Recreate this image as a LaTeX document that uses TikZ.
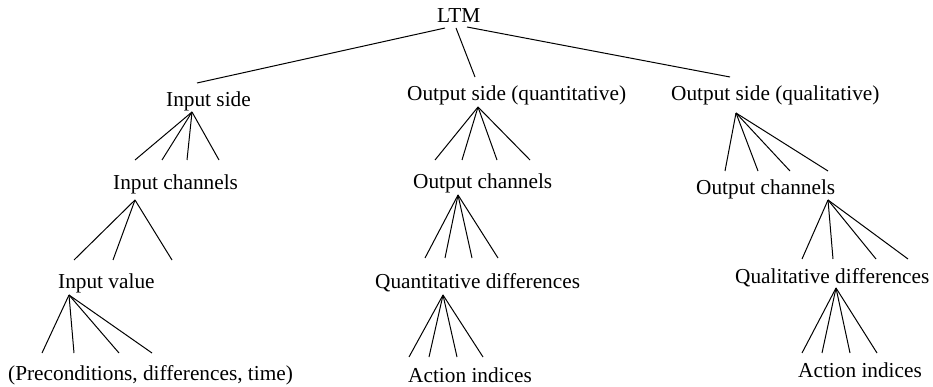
\documentclass[tikz,border=0pt]{standalone}
\usepackage{fontspec}
\setmainfont{Liberation Serif}
\begin{document}
\begin{tikzpicture}[x=1pt,y=-1pt,
  lbl/.style={anchor=base west,inner sep=0pt,font=\fontsize{21.3}{24}\selectfont},
  edge/.style={line width=1pt}]
\useasboundingbox (0,0) rectangle (933,387);
% labels
\node[lbl] (ltm) at (437,23) {LTM};
\node[lbl] (is) at (166,107) {Input side};
\node[lbl] (osq) at (407,101) {Output side (quantitative)};
\node[lbl] (osl) at (671,101) {Output side (qualitative)};
\node[lbl] (ic) at (113,190) {Input channels};
\node[lbl] (ocm) at (413,189) {Output channels};
\node[lbl] (ocr) at (696,195) {Output channels};
\node[lbl] (iv) at (58,288) {Input value};
\node[lbl] (qnd) at (375,288) {Quantitative differences};
\node[lbl] (qld) at (735,283) {Qualitative differences};
\node[lbl] (pdt) at (8,380) {(Preconditions, differences, time)};
\node[lbl] (aim) at (408,382) {Action indices};
\node[lbl] (air) at (798,377) {Action indices};
% LTM connectors
\coordinate (ltmA1) at (445,28);
\coordinate (ltmA2) at (456,28);
\coordinate (ltmA3) at (467,27);
\coordinate (isT) at (197,83);
\coordinate (osqT) at (475,77);
\coordinate (oslT) at (730,77);
\draw[edge] (ltmA1) -- (isT);
\draw[edge] (ltmA2) -- (osqT);
\draw[edge] (ltmA3) -- (oslT);
% fans
\coordinate (isA) at (192,112);
\foreach \i/\x in {1/135,2/162,3/187,4/219}{
  \coordinate (isE\i) at (\x,160);
  \draw[edge] (isA) -- (isE\i);}
\coordinate (icA) at (135,200);
\foreach \i/\x in {1/74,2/113,3/172}{
  \coordinate (icE\i) at (\x,260);
  \draw[edge] (icA) -- (icE\i);}
\coordinate (ivA) at (69,295);
\foreach \i/\x in {1/42,2/74,3/119,4/152}{
  \coordinate (ivE\i) at (\x,353);
  \draw[edge] (ivA) -- (ivE\i);}
\coordinate (osqA) at (478,107);
\foreach \i/\x in {1/435,2/462,3/497,4/530}{
  \coordinate (osqE\i) at (\x,160);
  \draw[edge] (osqA) -- (osqE\i);}
\coordinate (ocmA) at (458,195);
\foreach \i/\x in {1/425,2/445,3/472,4/498}{
  \coordinate (ocmE\i) at (\x,258);
  \draw[edge] (ocmA) -- (ocmE\i);}
\coordinate (qndA) at (443,295);
\foreach \i/\x in {1/409,2/429,3/457,4/483}{
  \coordinate (qndE\i) at (\x,357);
  \draw[edge] (qndA) -- (qndE\i);}
\coordinate (oslA) at (736,113);
\foreach \i/\x in {1/725,2/758,3/790,4/828}{
  \coordinate (oslE\i) at (\x,171);
  \draw[edge] (oslA) -- (oslE\i);}
\coordinate (ocrA) at (828,200);
\foreach \i/\x in {1/802,2/833,3/876,4/908}{
  \coordinate (ocrE\i) at (\x,259);
  \draw[edge] (ocrA) -- (ocrE\i);}
\coordinate (qldA) at (836,288);
\foreach \i/\x in {1/802,2/822,3/850,4/877}{
  \coordinate (qldE\i) at (\x,353);
  \draw[edge] (qldA) -- (qldE\i);}
\end{tikzpicture}
\end{document}
